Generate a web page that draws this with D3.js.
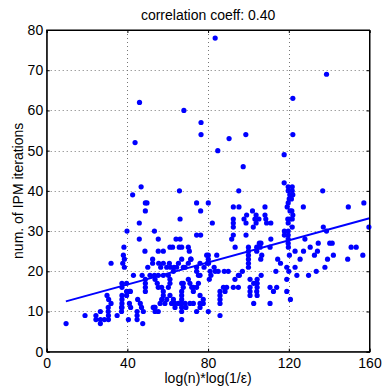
<!DOCTYPE html>
<html>
<head>
<meta charset="utf-8">
<script src="https://cdn.jsdelivr.net/npm/d3@7"></script>
<style>
  body { margin: 0; background: #fff; }
  svg text { font-family: "Liberation Sans", Arial, Helvetica, sans-serif; }
</style>
</head>
<body>
<div id="chart"></div>
<script>
// data
var xData = [
  46, 68, 76.5, 83.5, 122, 138.7,
  76.5, 43.8, 90.4, 98.7, 122, 84.8, 117.7, 97.4, 117.7,
  42.6, 46.8, 65.8, 95.2, 136.8,
  119.7, 121.7, 119.7, 121.7, 120.5, 122, 120.2, 121.3, 119.7, 119.2, 120.6, 120.6, 121.7, 119.7, 121.7, 117.8, 119.7, 117.8, 119.7, 119.7, 119.7, 121.5, 122, 119.5,
  48.9, 49.7, 48.9, 74.3, 80.1, 76.3, 157.2, 127.2, 149.5, 92.5, 95.3, 108.2, 102,
  39.8, 45.9, 45.9, 53.4, 55.3, 66.1, 64.1, 66.1, 74.3, 76.3, 82.1, 92.5, 92.5, 92.5, 91.7, 92.5, 97.8, 99.1, 98.8, 98.8,
  103.8, 103.2, 105.2, 103.8, 102.4, 108.2, 108.6, 109, 111.1,
  137.1, 138.7, 128, 134.6, 140.3, 141.5, 106.2, 111.1, 105.4, 159.7, 93.4, 38.3,
  105.8, 106.6, 106.1, 110.7, 119.8, 120.3, 123.1, 127.3, 130.6, 134.2, 132.7, 142.1, 139.2, 150.9, 153.4, 149.2, 156.7, 125.6,
  114.5, 115.9, 119, 120, 123.1, 137.9, 133.6, 129.8, 124, 113.6, 106.3, 104.3, 104.3, 104.3, 102.6, 102.6,
  110.7, 114, 112.4, 119, 119, 120.8, 110.7, 104.3,
  48.7, 31.9, 37.7, 38.5, 38.5, 50.1, 52.5, 52.5, 43, 47.3, 48.9, 48.9, 48.9, 48.9, 53.4,
  37.3, 37.3, 39.6, 41.5, 37.3, 37.3, 37.3, 37.3, 29.9, 30.7, 31.9, 45.1, 46.4, 41, 53.4,
  9.6, 19, 24.4, 24.4, 26.6, 26.6, 26.6, 28.6, 30.6, 30.6, 34.9, 40.5, 44.8, 44.8, 44.8, 47.6,
  61.1, 62.4, 65.7, 66.9, 100, 100, 100, 100, 100, 100, 104.1, 104.1, 55.3, 57.8, 80.1, 80.1, 84.3,
  57.8, 60.8, 61.4, 63.1, 65.3, 66.9, 68.6, 71.5, 74.3, 75.2, 76, 78, 79.6, 81, 81.4, 80.6,
  53.7, 54.8, 55.3, 61.1, 61.1, 66.9, 67.7, 67.7, 66.9, 66.9, 66.9, 66.9, 66.9, 66.9, 66.9,
  70.2, 71, 72.7, 72.7, 68.6, 71, 72.7, 76, 77.6, 76, 77.6, 80.1, 85.9,
  85.9, 85.9, 85.9, 85.9, 87.6, 88.4, 89.2, 92.5, 95, 93.3, 95, 100.8, 100.8, 100.8, 100.8, 104.1, 104.1,
  53.7, 57, 57.8, 60.3, 61.1, 56.2, 58.6, 61.9, 63.6, 65.3, 74.3, 80.2, 83.5, 85,
  70.2, 70.7, 55.5, 56.5, 59.5, 64.4, 67.7, 70.2, 71.4, 74.3, 76, 39.6, 41, 39.6, 41.6, 47, 47.9,
  51.2, 55.3, 57.8, 60.3, 62.8, 57, 57.8, 59.5, 62.8, 52.8, 53.7, 55.3, 71.9, 74.3, 75.2, 63.6, 69, 76, 79.3,
  30.5, 30.5, 37.1, 37.1, 38, 88, 90, 97, 95.5, 83
];
var yData = [
  62, 60, 57, 78, 63, 69,
  54, 52, 53, 54, 54, 50, 49, 46, 42,
  39, 41, 40, 40, 40,
  41, 41, 40, 40, 39, 39, 38, 38, 37, 36, 35, 33, 33, 32, 31, 30, 30, 29, 29, 28, 27, 35, 34, 33,
  37, 37, 35, 37, 37, 35, 37, 36, 36, 36, 36, 36, 35,
  30, 32, 28, 30, 28, 33, 28, 28, 29, 29, 32, 33, 32, 31, 28, 29, 33, 34, 32, 29,
  34, 33, 33, 32, 31, 34, 33, 32, 32,
  31, 30, 28, 27, 27, 27, 27, 28, 27, 31, 26, 26,
  26, 24, 23, 26, 26, 24, 25, 25, 26, 25, 24, 24, 23, 26, 26, 23, 24, 23,
  23, 22, 21, 20, 21, 21, 20, 19, 19, 20, 19, 18, 17, 16, 17, 12,
  16, 16, 15, 18, 15, 13, 12, 14,
  25, 22, 22, 23, 21, 21, 23, 22, 19, 19, 18, 17, 16, 15, 19,
  17, 16, 15, 15, 14, 13, 12, 11, 14, 13, 12, 13, 12, 12, 11,
  7, 9, 9, 8, 10, 8, 7, 8, 8, 9, 9, 8, 10, 9, 8, 7,
  26, 26, 26, 26, 26, 25, 24, 23, 22, 21, 26, 25, 25, 25, 24, 23, 24,
  22, 22, 21, 21, 22, 23, 21, 23, 20, 19, 19, 21, 22, 20, 19, 18,
  18, 17, 16, 18, 17, 17, 17, 16, 15, 14, 13, 12, 11, 10, 8,
  18, 17, 16, 15, 12, 12, 12, 12, 12, 14, 13, 10, 9,
  15, 14, 13, 12, 16, 15, 16, 16, 16, 18, 19, 18, 16, 15, 14, 17, 15,
  11, 13, 14, 16, 14, 12, 12, 12, 12, 12, 10, 22, 20, 20,
  26, 25, 22, 21, 21, 21, 21, 22, 23, 21, 22, 17, 15, 14, 11, 11, 10,
  19, 19, 19, 19, 20, 16, 15, 13, 13, 11, 10, 10, 16, 16, 17, 11, 11, 11, 24,
  11, 10, 11, 10, 24, 20, 20, 20, 19, 21
];
var xTicks = [0, 40, 80, 120, 160];
var yTicks = [0, 10, 20, 30, 40, 50, 60, 70, 80];
var fitSlope = 0.1375;
var fitIntercept = 11.2;
var fitRange = [9.5, 160];
var titleText = "correlation coeff: 0.40";
var xLabel = "log(n)*log(1/\u03b5)";
var yLabel = "num. of IPM iterations";

var width = 382, height = 388;
var padL = 46.7, padR = 369.5, padT = 30, padB = 351.7;
var blue = "#0000ff";
var fontSize = "14px";

var svg = d3.select("#chart").append("svg")
  .attr("width", width)
  .attr("height", height);

var x = d3.scaleLinear().domain([0, 160]).range([padL, padR]);
var y = d3.scaleLinear().domain([0, 80]).range([padB, padT]);

// dotted grid
svg.append("g").selectAll("line")
  .data(xTicks.slice(1, -1))
  .enter().append("line")
  .attr("x1", function(d) { return Math.round(x(d)) + 0.5; })
  .attr("x2", function(d) { return Math.round(x(d)) + 0.5; })
  .attr("y1", padT).attr("y2", padB)
  .attr("stroke", "#777").attr("stroke-width", 1)
  .attr("stroke-dasharray", "1,3");

svg.append("g").selectAll("line")
  .data(yTicks.slice(1, -1))
  .enter().append("line")
  .attr("y1", function(d) { return Math.round(y(d)) + 0.5; })
  .attr("y2", function(d) { return Math.round(y(d)) + 0.5; })
  .attr("x1", padL).attr("x2", padR)
  .attr("stroke", "#777").attr("stroke-width", 1)
  .attr("stroke-dasharray", "1,3");

// axes with inward ticks, MATLAB style
var xAxis = d3.axisBottom(x).tickValues(xTicks).tickSize(-3).tickPadding(6.5);
var yAxis = d3.axisLeft(y).tickValues(yTicks).tickSize(-3).tickPadding(3.5);

svg.append("g")
  .attr("transform", "translate(0," + padB + ")")
  .call(xAxis);
svg.append("g")
  .attr("transform", "translate(" + padL + ",0)")
  .call(yAxis);
svg.append("g")
  .attr("transform", "translate(0," + padT + ")")
  .call(d3.axisTop(x).tickValues(xTicks).tickSize(-3).tickFormat(""));
svg.append("g")
  .attr("transform", "translate(" + padR + ",0)")
  .call(d3.axisRight(y).tickValues(yTicks).tickSize(-3).tickFormat(""));

svg.selectAll(".domain").attr("stroke", "#000");
svg.selectAll(".tick line").attr("stroke", "#000");
svg.selectAll(".tick text")
  .attr("fill", "#000")
  .style("font-size", fontSize)
  .style("font-family", "'Liberation Sans', Arial, sans-serif");

// scatter points
var pts = d3.range(xData.length).map(function(i) { return {x: xData[i], y: yData[i]}; });
svg.append("g").selectAll("circle")
  .data(pts)
  .enter().append("circle")
  .attr("cx", function(d) { return x(d.x); })
  .attr("cy", function(d) { return y(d.y); })
  .attr("r", 2.6)
  .attr("fill", blue);

// fitted line
svg.append("line")
  .attr("x1", x(fitRange[0]))
  .attr("y1", y(fitIntercept + fitSlope * fitRange[0]))
  .attr("x2", x(fitRange[1]))
  .attr("y2", y(fitIntercept + fitSlope * fitRange[1]))
  .attr("stroke", blue)
  .attr("stroke-width", 2);

// box frame
svg.append("rect")
  .attr("x", padL).attr("y", padT)
  .attr("width", padR - padL).attr("height", padB - padT)
  .attr("fill", "none").attr("stroke", "#000").attr("stroke-width", 1);

// texts
svg.append("text")
  .attr("x", (padL + padR) / 2).attr("y", 19.5)
  .attr("text-anchor", "middle")
  .style("font-size", fontSize)
  .text(titleText);

svg.append("text")
  .attr("x", (padL + padR) / 2).attr("y", 383)
  .attr("text-anchor", "middle")
  .style("font-size", fontSize)
  .text(xLabel);

svg.append("text")
  .attr("transform", "translate(22.5," + ((padT + padB) / 2) + ") rotate(-90)")
  .attr("text-anchor", "middle")
  .style("font-size", fontSize)
  .text(yLabel);
</script>
</body>
</html>
